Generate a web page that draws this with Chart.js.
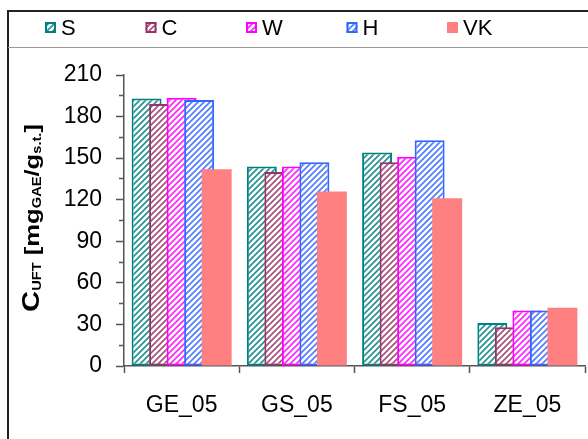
<!DOCTYPE html>
<html>
<head>
<meta charset="utf-8">
<script src="https://cdn.jsdelivr.net/npm/chart.js@4.4.1/dist/chart.umd.min.js"></script>
<style>
  html, body { margin: 0; padding: 0; background: #fff; }
  #wrap { width: 588px; height: 439px; }
</style>
</head>
<body>
<div id="wrap"><canvas id="chartUft"></canvas></div>
<script>
// samples and series
const categories = ["GE_05", "GS_05", "FS_05", "ZE_05"];
const seriesNames = ["S", "C", "W", "H", "VK"];
const valuesS = [193, 144, 154, 31];
const valuesC = [189, 140, 147, 28];
const valuesW = [193.5, 144, 151, 40];
const valuesH = [192, 147, 163, 40];
const valuesVK = [142, 126, 121, 42];
const seriesColors = ["#008080", "#993366", "#ff00ff", "#3366ff", "#ff8080"];

// diagonal hatch like the excel fill
function hatch(color) {
  const c = document.createElement("canvas");
  c.width = 6; c.height = 6;
  const g = c.getContext("2d");
  g.fillStyle = "#fff";
  g.fillRect(0, 0, 6, 6);
  g.strokeStyle = color;
  g.globalAlpha = 0.85;
  g.lineWidth = 1.7;
  g.beginPath();
  g.moveTo(-1, 7); g.lineTo(7, -1);
  g.moveTo(-4, 4); g.lineTo(4, -4);
  g.moveTo(2, 10); g.lineTo(10, 2);
  g.stroke();
  return g.createPattern(c, "repeat");
}

const allValues = [valuesS, valuesC, valuesW, valuesH, valuesVK];
const datasets = seriesNames.map((name, i) => {
  const solid = name === "VK";
  return {
    label: name,
    data: allValues[i],
    backgroundColor: solid ? seriesColors[i] : hatch(seriesColors[i]),
    borderColor: seriesColors[i],
    borderWidth: solid ? 0 : 2,
    borderSkipped: false
  };
});

// later series sit on top of earlier ones (overlapping bars)
const drawInOrder = {
  id: "drawInOrder",
  beforeDatasetsDraw(chart) {
    chart.getSortedVisibleDatasetMetas().forEach(m => m.controller.draw());
    return false;
  }
};

// frame, legend box and the y title with subscripts
const decor = {
  id: "decor",
  afterDraw(chart) {
    const ctx = chart.ctx;
    ctx.save();
    // outer frame
    ctx.strokeStyle = "#222";
    ctx.lineWidth = 2;
    ctx.strokeRect(8, 11, 600, 450);
    // legend bottom line
    ctx.strokeStyle = "#999";
    ctx.lineWidth = 1;
    ctx.beginPath();
    ctx.moveTo(8, 47.5); ctx.lineTo(588, 47.5);
    ctx.stroke();

    // legend items
    ctx.font = "22px Arial, 'Liberation Sans'";
    ctx.textBaseline = "middle";
    ctx.textAlign = "left";
    chart.data.datasets.forEach((ds, i) => {
      const x = 45 + i * 100.5;
      const y = 22;
      ctx.fillStyle = ds.backgroundColor;
      ctx.fillRect(x, y, 11, 11);
      if (ds.borderWidth) {
        ctx.strokeStyle = ds.borderColor;
        ctx.lineWidth = 2;
        ctx.strokeRect(x + 1, y + 1, 9, 9);
      }
      ctx.fillStyle = "#000";
      ctx.fillText(ds.label, x + 16, y + 7);
    });

    // y axis title, stretched along the text like the original
    const parts = [
      ["C", 24, 0],
      ["UFT", 12, 2],
      [" [mg", 21, 0],
      ["GAE", 12, 2],
      ["/g", 21, 0],
      ["s.t.", 12, 2],
      ["]", 21, 0]
    ];
    let total = 0;
    parts.forEach(p => {
      ctx.font = "bold " + p[1] + "px Arial, 'Liberation Sans'";
      total += ctx.measureText(p[0]).width;
    });
    ctx.translate(39, 218);
    ctx.rotate(-Math.PI / 2);
    ctx.scale(1.22, 1);
    ctx.textBaseline = "alphabetic";
    ctx.fillStyle = "#000";
    let px = -total / 2;
    parts.forEach(p => {
      ctx.font = "bold " + p[1] + "px Arial, 'Liberation Sans'";
      ctx.fillText(p[0], px, p[2]);
      px += ctx.measureText(p[0]).width;
    });
    ctx.restore();
  }
};

new Chart(document.getElementById("chartUft"), {
  type: "bar",
  data: { labels: categories, datasets: datasets },
  plugins: [drawInOrder, decor],
  options: {
    responsive: true,
    maintainAspectRatio: false,
    animation: false,
    categoryPercentage: 0.76,
    barPercentage: 1.71,
    layout: { padding: { top: 75, left: 0, right: 3, bottom: 0 } },
    plugins: {
      legend: { display: false },
      tooltip: { enabled: false }
    },
    scales: {
      x: {
        offset: true,
        afterFit: (s) => { s.height = 73; },
        border: { color: "#555", width: 1.5 },
        grid: { display: true, offset: true, drawOnChartArea: false, tickLength: 7, tickColor: "#555", tickWidth: 1.5 },
        ticks: { color: "#000", font: { family: "Arial, 'Liberation Sans'", size: 23 }, padding: 19 }
      },
      y: {
        min: 0,
        max: 210,
        afterFit: (s) => { s.width = 124; },
        border: { color: "#555", width: 1.5 },
        grid: {
          drawOnChartArea: false,
          tickLength: 8,
          tickColor: "#555",
          tickWidth: 1.5,
          tickBorderDash: (c) => (c.tick && c.tick.value % 30) ? [0, 3, 5, 100] : []
        },
        ticks: {
          stepSize: 15,
          autoSkip: false,
          color: "#000",
          font: { family: "Arial, 'Liberation Sans'", size: 23 },
          padding: 14,
          callback: (v) => (v % 30 === 0 ? v : "")
        }
      }
    }
  }
});
</script>
</body>
</html>
